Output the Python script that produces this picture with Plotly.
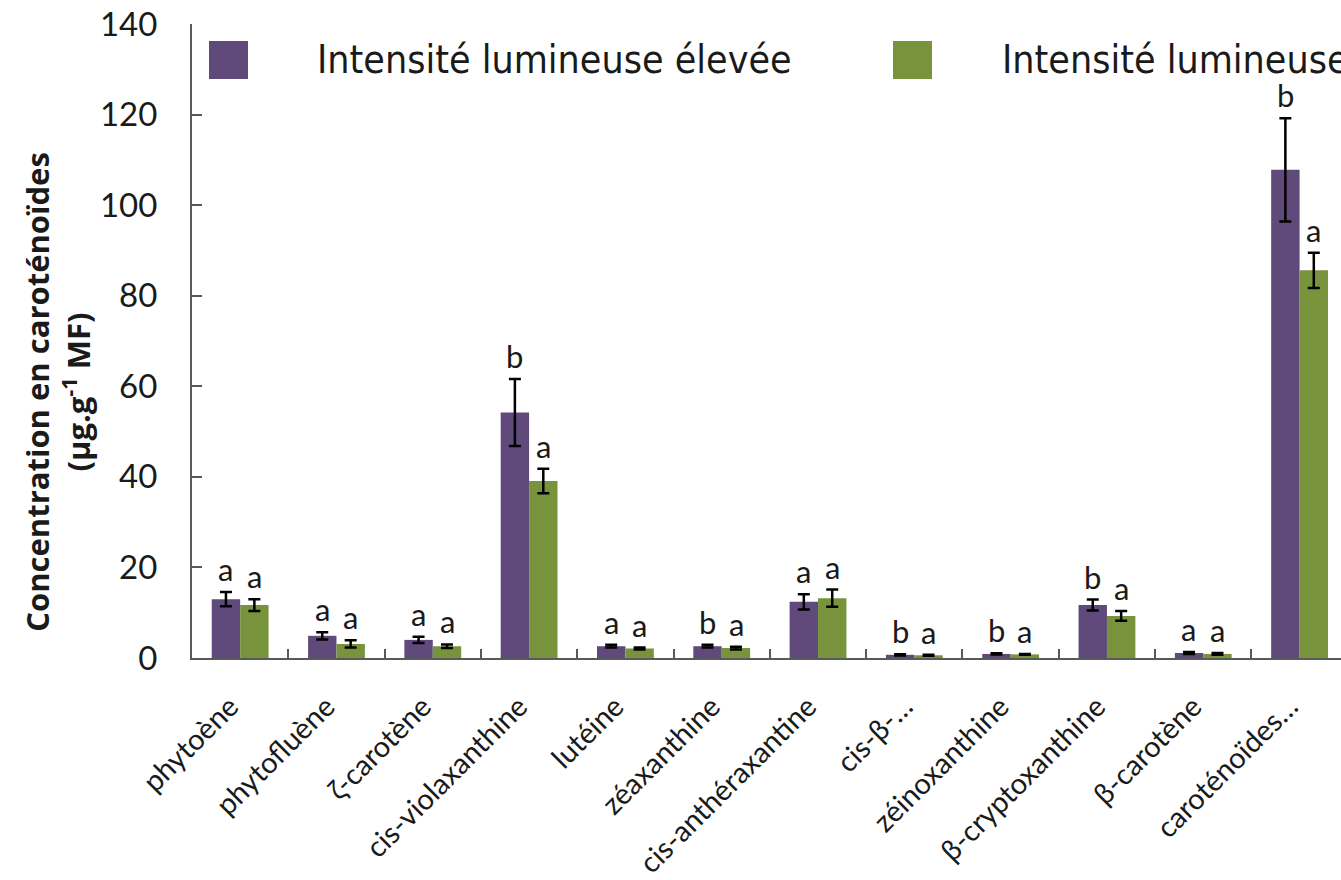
import plotly.graph_objects as go

# Carotenoid concentrations (µg.g-1 FW) under two light intensities
categories = ["phytoène", "phytofluène", "ζ-carotène", "cis-violaxanthine", "lutéine",
              "zéaxanthine", "cis-anthéraxantine", "cis-β-…", "zéinoxanthine",
              "β-cryptoxanthine", "β-carotène", "caroténoïdes…"]

series_names = ["Intensité lumineuse élevée", "Intensité lumineuse faible"]

high_values = [13.0, 4.9, 4.0, 54.2, 2.6, 2.6, 12.4, 0.7, 0.9, 11.7, 1.1, 107.8]
high_errors = [1.6, 0.8, 0.7, 7.4, 0.3, 0.3, 1.7, 0.15, 0.15, 1.2, 0.2, 11.4]
high_letters = ["a", "a", "a", "b", "a", "b", "a", "b", "b", "b", "a", "b"]

low_values = [11.7, 3.1, 2.6, 39.1, 2.1, 2.2, 13.2, 0.6, 0.8, 9.3, 0.9, 85.6]
low_errors = [1.3, 0.8, 0.4, 2.7, 0.2, 0.3, 1.9, 0.1, 0.1, 1.1, 0.2, 3.9]
low_letters = ["a", "a", "a", "a", "a", "a", "a", "a", "a", "a", "a", "a"]

PURPLE = "#604A7B"
GREEN = "#77933C"
AXIS = "#595959"
TEXT = "#1a1a1a"
FONT = "Lato"

W, H = 1341, 880
ML, MR, MT, MB = 192, 0, 24, 222
BAR_HALF = 14.3  # half of a bar's pixel width, for centring letters

fig = go.Figure()
for name, vals, errs, col in [(series_names[0], high_values, high_errors, PURPLE),
                              (series_names[1], low_values, low_errors, GREEN)]:
    fig.add_trace(go.Bar(
        x=categories, y=vals, name=name,
        marker=dict(color=col, line=dict(width=0)),
        error_y=dict(type="data", array=errs, visible=True,
                     color="black", thickness=2.5, width=6),
        showlegend=False,
    ))

annotations = []
# significance letters above each error bar
for cat, v, e, lt in zip(categories, high_values, high_errors, high_letters):
    annotations.append(dict(x=cat, y=v + e, xref="x", yref="y", text=lt,
                            showarrow=False, xshift=-BAR_HALF, yanchor="bottom",
                            yshift=2, font=dict(family=FONT, size=31, color=TEXT)))
for cat, v, e, lt in zip(categories, low_values, low_errors, low_letters):
    annotations.append(dict(x=cat, y=v + e, xref="x", yref="y", text=lt,
                            showarrow=False, xshift=BAR_HALF, yanchor="bottom",
                            yshift=2, font=dict(family=FONT, size=31, color=TEXT)))

# y-axis title
annotations.append(dict(
    x=0, y=0.42, xref="paper", yref="paper", xanchor="center", yanchor="middle",
    xshift=-(ML - 57), textangle=-90, showarrow=False,
    text="<b>Concentration en caroténoïdes<br>(µg.g<sup>-1</sup> MF)</b>",
    font=dict(family="Open Sans", size=31, color=TEXT),
))

# legend drawn as large swatches with labels
shapes = []
legend_items = [(PURPLE, series_names[0], 209, 315), (GREEN, series_names[1], 893, 1000)]
for col, label, sx, tx in legend_items:
    shapes.append(dict(type="rect", xref="paper", yref="paper",
                       x0=(sx - ML) / (W - ML - MR), x1=(sx + 39 - ML) / (W - ML - MR),
                       y0=(H - MB - 79) / (H - MT - MB), y1=(H - MB - 41) / (H - MT - MB),
                       fillcolor=col, line=dict(width=0)))
    annotations.append(dict(x=(tx - ML) / (W - ML - MR), y=(H - MB - 60) / (H - MT - MB),
                            xref="paper", yref="paper", xanchor="left", yanchor="middle",
                            text=label, showarrow=False,
                            font=dict(family="Liberation Sans Narrow, DejaVu Sans Condensed",
                                      size=39, color=TEXT)))

fig.update_layout(
    width=W, height=H,
    margin=dict(l=ML, r=MR, t=MT, b=MB, pad=0, autoexpand=False),
    paper_bgcolor="white", plot_bgcolor="white",
    barmode="group", bargap=0.41, bargroupgap=0,
    annotations=annotations, shapes=shapes,
    font=dict(family=FONT, color=TEXT),
    xaxis=dict(
        range=[-0.5, 11.43], showline=True, linecolor=AXIS, linewidth=2,
        ticks="inside", tickson="boundaries", ticklen=9, tickwidth=2, tickcolor=AXIS,
        tickangle=-45, tickfont=dict(family=FONT, size=29, color=TEXT),
        ticklabelstandoff=18, ticklabelshift=-10, showgrid=False, zeroline=False,
        automargin=False,
    ),
    yaxis=dict(
        range=[0, 140], dtick=20, showline=True, linecolor=AXIS, linewidth=2,
        ticks="inside", ticklen=10, tickwidth=2, tickcolor=AXIS,
        tickfont=dict(family=FONT, size=33, color=TEXT),
        ticklabelstandoff=26, showgrid=False, zeroline=False, automargin=False,
    ),
)

fig.write_html("out.html")
